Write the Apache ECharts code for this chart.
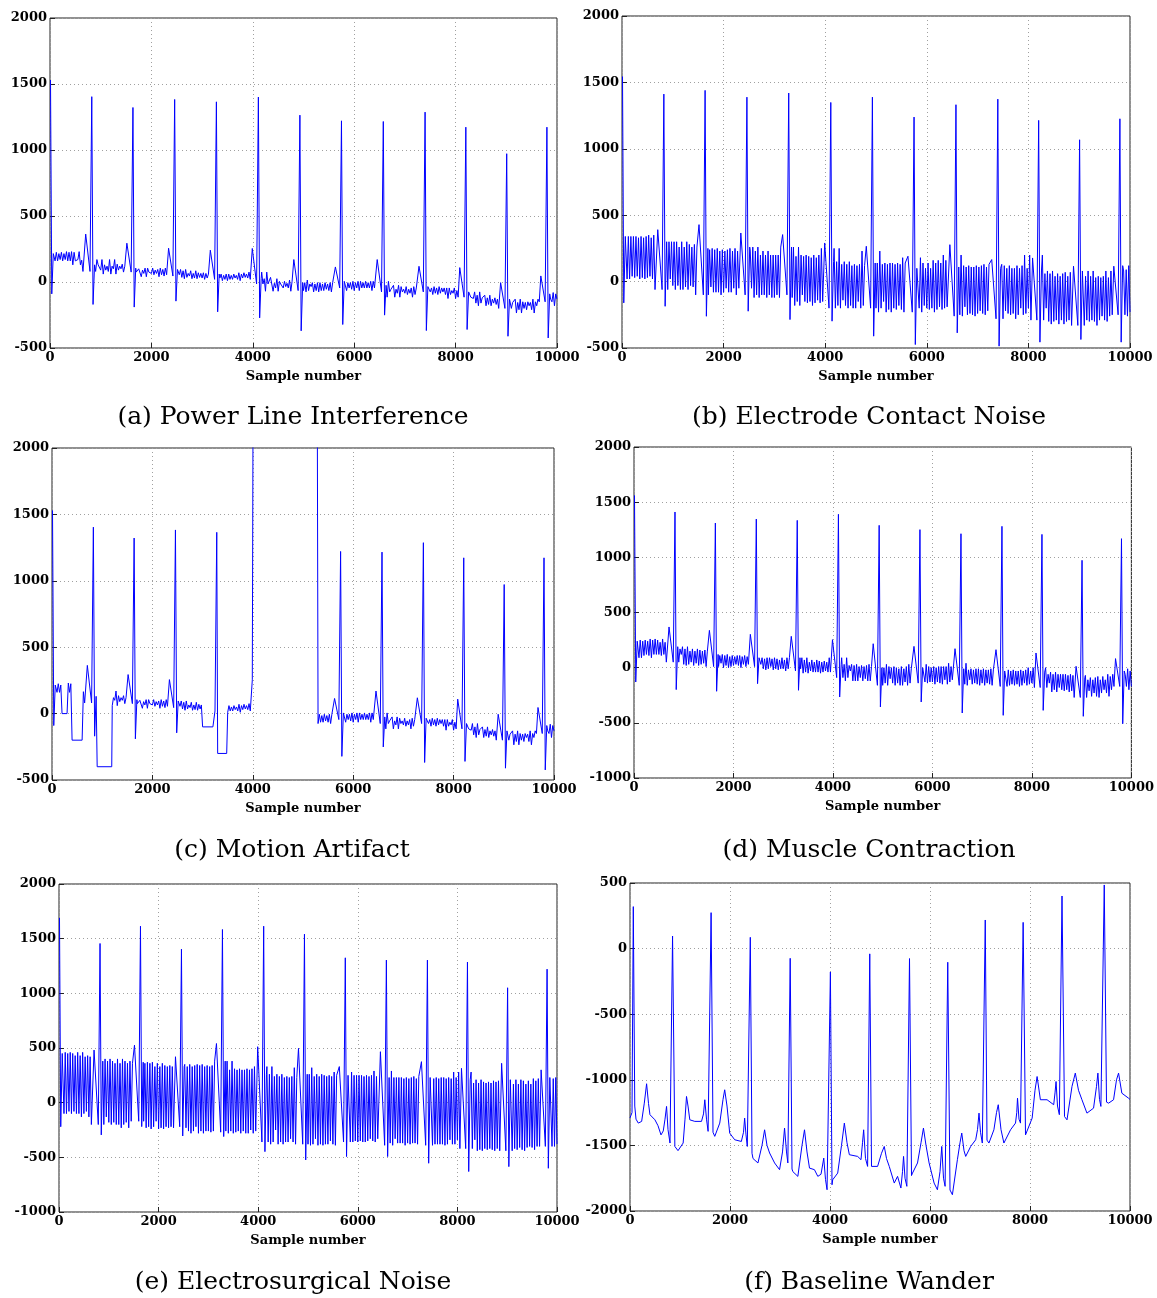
<!DOCTYPE html>
<html>
<head>
<meta charset="utf-8">
<script src="https://cdn.jsdelivr.net/npm/echarts/dist/echarts.min.js"></script>
<style>
  html, body { margin: 0; padding: 0; background: #fff; }
  #chart { width: 1157px; height: 1298px; }
</style>
</head>
<body>
<div id="chart"></div>
<script>
// ---------- data ----------
// R peak positions (sample number), same record for panels a-e
var beatX = [10, 824, 1636, 2459, 3282, 4110, 4929, 5749, 6574, 7398, 8202, 9008, 9801];
// noise envelope every 200 samples (0..10000)
var binStep = 200;

// (a) power line interference
var plLo = [160, 170, 160, 130, 80, 90, 60, 100, 75, 40, 65, 55, 45, 35, 25, 30, 20, 10, 20, 30, 35, -15, -70, -45, -35,
  -65, -75, -65, -55, -45, -65, -45, -45, -75, -115, -85, -95, -75, -85, -95, -125, -115, -160, -180, -170, -200, -235, -210, -180, -150, -130];
var plHi = [215, 225, 230, 165, 130, 170, 120, 135, 105, 90, 105, 95, 95, 85, 65, 70, 60, 50, 60, 70, 75, 25, -10, 5, 15,
  -5, -15, -5, -5, 5, -5, 5, 5, -25, -55, -35, -45, -35, -45, -45, -65, -75, -100, -120, -130, -130, -155, -150, -130, -90, -80];
var plPeak = [1530, 1404, 1322, 1383, 1365, 1401, 1264, 1221, 1216, 1287, 1173, 972, 1173];
var plDip = [-90, -170, -190, -145, -226, -272, -370, -322, -251, -368, -360, -411, -424];
var plWave = [null, 363, 294, 256, 241, 254, 170, 114, 170, 119, 109, -5, 46];

// (b) electrode contact noise
var ecLo = [20, 40, 30, 20, -60, -30, -60, -40, -100, -80, -80, -50, -100, -120, -100, -120, -100, -180, -150, -160, -140, -200, -180, -200, -150,
  -200, -230, -210, -180, -230, -200, -210, -190, -260, -250, -240, -220, -280, -240, -250, -200, -290, -300, -320, -290, -330, -300, -290, -260, -250, -230];
var ecHi = [340, 340, 330, 350, 300, 300, 260, 280, 250, 240, 230, 250, 260, 230, 200, 200, 260, 190, 200, 180, 250, 150, 130, 120, 230,
  140, 130, 140, 180, 100, 140, 160, 200, 110, 120, 110, 130, 100, 120, 100, 200, 80, 60, 40, 70, 80, 40, 30, 80, 120, 90];
var ecPeak = [1545, 1412, 1440, 1389, 1420, 1349, 1389, 1239, 1332, 1374, 1214, 1068, 1226];
var ecDip = [-160, -186, -261, -223, -286, -298, -411, -474, -386, -486, -456, -436, -456];
var ecWave = [null, 391, 429, 366, 354, 291, 266, 191, 278, 166, 178, 116, 116];

// (c) motion artifact: record (a) with flat dropouts
var maStart = [200, 400, 900, 3000, 3300, 4010];
var maEnd = [300, 600, 1190, 3205, 3480, 5280];
var maLevel = [0, -200, -400, -100, -300, 3000];

// (d) muscle contraction
var mcLo = [90, 110, 120, 120, 50, 30, 20, 40, 10, 0, 20, 30, 10, -10, -20, -10, -30, -50, -40, -40, -30, -90, -120, -120, -100,
  -160, -140, -160, -130, -140, -130, -150, -110, -160, -150, -140, -160, -170, -150, -160, -140, -180, -220, -200, -210, -270, -260, -230, -200, -170, -170];
var mcHi = [240, 250, 260, 230, 190, 170, 150, 160, 120, 110, 100, 110, 90, 80, 90, 70, 90, 70, 50, 60, 90, 30, 20, 10, 30,
  0, 10, -10, 30, 0, 10, 10, 40, -10, -20, -10, -20, -30, -20, -30, 0, -40, -60, -60, -70, -90, -110, -80, -60, -30, -10];
var mcPeak = [1562, 1411, 1311, 1347, 1335, 1390, 1290, 1251, 1214, 1281, 1208, 973, 1169];
var mcDip = [-130, -199, -214, -145, -205, -266, -356, -311, -411, -432, -387, -441, -508];
var mcWave = [null, 369, 338, 302, 284, 254, 217, 193, 172, 163, 133, 12, 82];

// (e) electrosurgical noise
var esLo = [-100, -80, -100, -130, -200, -180, -200, -230, -170, -220, -240, -230, -220, -260, -280, -260, -270, -280, -260, -280, -250, -360, -380, -360, -330,
  -380, -390, -380, -350, -360, -360, -350, -330, -390, -370, -370, -380, -390, -380, -380, -340, -420, -440, -430, -420, -440, -430, -410, -400, -400, -380];
var esHi = [450, 460, 430, 420, 380, 400, 360, 380, 370, 360, 330, 340, 330, 350, 340, 330, 380, 300, 310, 300, 330, 260, 240, 230, 320,
  260, 240, 250, 280, 250, 250, 240, 290, 230, 230, 220, 240, 230, 220, 230, 280, 210, 180, 190, 200, 210, 170, 200, 220, 230, 220];
var esPeak = [1690, 1456, 1614, 1404, 1584, 1614, 1541, 1325, 1304, 1304, 1286, 1051, 1221];
var esDip = [-220, -295, -219, -305, -310, -448, -524, -493, -493, -554, -630, -585, -600];
var esWave = [null, 481, 526, 420, 541, 512, 497, 330, 466, 375, 314, 360, 300];

// (f) baseline wander (different record)
var bwX = [0, 40, 66, 95, 120, 166, 233, 286, 332, 370, 399, 499, 560, 620, 665, 700, 731, 760, 800, 851, 897, 960, 997, 1063, 1100, 1130, 1160, 1196, 1296, 1430,
  1470, 1496, 1530, 1562, 1622, 1660, 1695, 1795, 1860, 1894, 1940, 1994, 2094, 2227, 2270, 2293, 2320, 2346, 2406, 2440, 2460, 2559, 2640, 2692, 2740, 2792, 2892, 2991, 3050, 3091,
  3130, 3157, 3204, 3240, 3257, 3357, 3440, 3490, 3540, 3590, 3689, 3756, 3820, 3875, 3910, 3941, 4008, 4040, 4054, 4154, 4230, 4287, 4340, 4387, 4553, 4620, 4650, 4673, 4710, 4752,
  4795, 4830, 4952, 5030, 5085, 5130, 5185, 5285, 5351, 5418, 5450, 5471, 5500, 5537, 5590, 5630, 5650, 5750, 5820, 5869, 5920, 5982, 6082, 6148, 6200, 6235, 6270, 6302, 6355, 6400,
  6448, 6548, 6600, 6635, 6680, 6714, 6814, 6914, 6950, 6980, 7010, 7046, 7105, 7140, 7179, 7278, 7330, 7365, 7420, 7478, 7611, 7710, 7735, 7750, 7780, 7810, 7863, 7910, 7943, 8043,
  8100, 8142, 8208, 8341, 8474, 8500, 8521, 8550, 8587, 8640, 8690, 8740, 8840, 8906, 8970, 9039, 9139, 9271, 9330, 9358, 9390, 9418, 9485, 9530, 9572, 9671, 9730, 9771, 9837, 9900, 9970, 10000];
var bwY = [-1290, -1250, 320, -1200, -1300, -1330, -1317, -1178, -1030, -1180, -1266, -1305, -1350, -1420, -1390, -1300, -1203, -1380, -1482, 96, -1508, -1540, -1555, -1482, -1300, -1127, -1200, -1305, -1317, -1317,
  -1260, -1152, -1300, -1393, 274, -1400, -1431, -1330, -1150, -1076, -1200, -1406, -1457, -1470, -1400, -1292, -1420, -1508, 86, -1560, -1600, -1634, -1500, -1381, -1500, -1558, -1634, -1685, -1550, -1368,
  -1550, -1634, -74, -1680, -1700, -1736, -1500, -1381, -1550, -1673, -1685, -1736, -1720, -1597, -1760, -1838, -178, -1800, -1762, -1711, -1500, -1330, -1480, -1571, -1584, -1609, -1480, -1381, -1600, -1660,
  -40, -1660, -1660, -1560, -1508, -1600, -1660, -1787, -1736, -1825, -1700, -1584, -1750, -1812, -76, -1730, -1711, -1634, -1480, -1368, -1500, -1634, -1787, -1838, -1700, -1508, -1750, -1812, -104, -1840,
  -1876, -1609, -1480, -1406, -1540, -1584, -1508, -1457, -1380, -1254, -1400, -1482, 218, -1460, -1482, -1381, -1250, -1190, -1380, -1482, -1381, -1330, -1250, -1140, -1300, -1330, 200, -1420, -1406, -1292,
  -1080, -975, -1152, -1152, -1190, -1100, -1013, -1200, -1266, 401, -1280, -1305, -1050, -949, -1080, -1152, -1254, -1216, -1050, -949, -1150, -1203, 485, -1170, -1178, -1152, -1000, -949, -1102, -1120, -1140, -1150];

// ---------- building the traces ----------
function byX(a, b) { return a[0] - b[0]; }

// noise band: zigzag between the envelope values of this bin and its neighbours,
// so the swings are uneven like the recorded noise; beats inserted on top
var zigBins = [0, 0, 1, -1, 0, 1, -1, 0];
function beatTrace(lo, hi, peak, dip, wave) {
  var pts = [];
  var n = lo.length;
  for (var i = 0; i < n; i++) {
    for (var k = 0; k < zigBins.length; k++) {
      var x = i * binStep + k * binStep / zigBins.length;
      if (x > 10000) break;
      var b = Math.min(n - 1, Math.max(0, i + zigBins[k]));
      pts.push([x, k % 2 ? hi[b] : lo[b]]);
    }
  }
  beatX.forEach(function(r, j) {
    pts = pts.filter(function(p) { return p[0] < r - 150 || p[0] > r + 60; });
    var b = Math.round(r / binStep);
    if (wave[j] !== null) {
      pts.push([r - 120, wave[j]]);
      pts.push([r - 35, lo[b]]);
    }
    pts.push([r, peak[j]]);
    pts.push([r + 25, dip[j]]);
    pts.push([r + 55, hi[b]]);
  });
  return pts.sort(byX);
}

function withDropouts(pts) {
  maStart.forEach(function(s, j) {
    var e = maEnd[j];
    pts = pts.filter(function(p) { return p[0] < s || p[0] > e; });
    pts.push([s, maLevel[j]]);
    pts.push([e, maLevel[j]]);
  });
  return pts.sort(byX);
}

var traces = [
  beatTrace(plLo, plHi, plPeak, plDip, plWave),
  beatTrace(ecLo, ecHi, ecPeak, ecDip, ecWave),
  withDropouts(beatTrace(plLo, plHi, plPeak, plDip, plWave)),
  beatTrace(mcLo, mcHi, mcPeak, mcDip, mcWave),
  beatTrace(esLo, esHi, esPeak, esDip, esWave),
  bwX.map(function(x, i) { return [x, bwY[i]]; })
];

// ---------- layout ----------
var boxes = [
  { left: 50, top: 18, width: 507, height: 330, min: -500, max: 2000 },
  { left: 622, top: 16, width: 508, height: 332, min: -500, max: 2000 },
  { left: 52, top: 448, width: 502, height: 332, min: -500, max: 2000 },
  { left: 634, top: 447, width: 498, height: 331, min: -1000, max: 2000 },
  { left: 59, top: 884, width: 498, height: 328, min: -1000, max: 2000 },
  { left: 630, top: 883, width: 500, height: 328, min: -2000, max: 500 }
];
var captions = ['(a) Power Line Interference', '(b) Electrode Contact Noise', '(c) Motion Artifact',
  '(d) Muscle Contraction', '(e) Electrosurgical Noise', '(f) Baseline Wander'];
var captionPos = [[293, 417], [869, 417], [292, 850], [869, 850], [293, 1282], [869, 1282]];

var serif = 'DejaVu Serif';
var dotted = { show: true, lineStyle: { type: [1, 3], color: '#a0a0a0', width: 1 } };
var tickLabel = { fontFamily: serif, fontSize: 13, fontWeight: 'bold', color: '#000', margin: 3,
  formatter: function(v) { return String(v); } };

var option = {
  animation: false,
  backgroundColor: '#fff',
  grid: boxes.map(function(b) {
    return { left: b.left, top: b.top, width: b.width, height: b.height,
      show: true, borderColor: '#222', borderWidth: 1, backgroundColor: 'transparent' };
  }),
  xAxis: boxes.map(function(b, i) {
    return {
      type: 'value', gridIndex: i, min: 0, max: 10000, interval: 2000,
      name: 'Sample number', nameLocation: 'middle', nameGap: 22,
      nameTextStyle: { fontFamily: serif, fontSize: 13, fontWeight: 'bold', color: '#000' },
      axisLine: { show: false, onZero: false },
      axisTick: { show: true, inside: true, length: 5, lineStyle: { color: '#222' } },
      axisLabel: tickLabel,
      splitLine: dotted
    };
  }),
  yAxis: boxes.map(function(b, i) {
    return {
      type: 'value', gridIndex: i, min: b.min, max: b.max, interval: 500,
      axisLine: { show: false, onZero: false },
      axisTick: { show: true, inside: true, length: 5, lineStyle: { color: '#222' } },
      axisLabel: tickLabel,
      splitLine: dotted
    };
  }),
  series: traces.map(function(t, i) {
    return {
      type: 'line', xAxisIndex: i, yAxisIndex: i, data: t,
      showSymbol: false, clip: true,
      lineStyle: { color: '#0000ff', width: 1 }
    };
  }),
  graphic: captions.map(function(c, i) {
    return {
      type: 'text', x: captionPos[i][0], y: captionPos[i][1],
      style: { text: c, font: '25px "' + serif + '"', fill: '#000', align: 'center', verticalAlign: 'middle' }
    };
  })
};

var myChart = echarts.init(document.getElementById('chart'));
myChart.setOption(option);
</script>
</body>
</html>
